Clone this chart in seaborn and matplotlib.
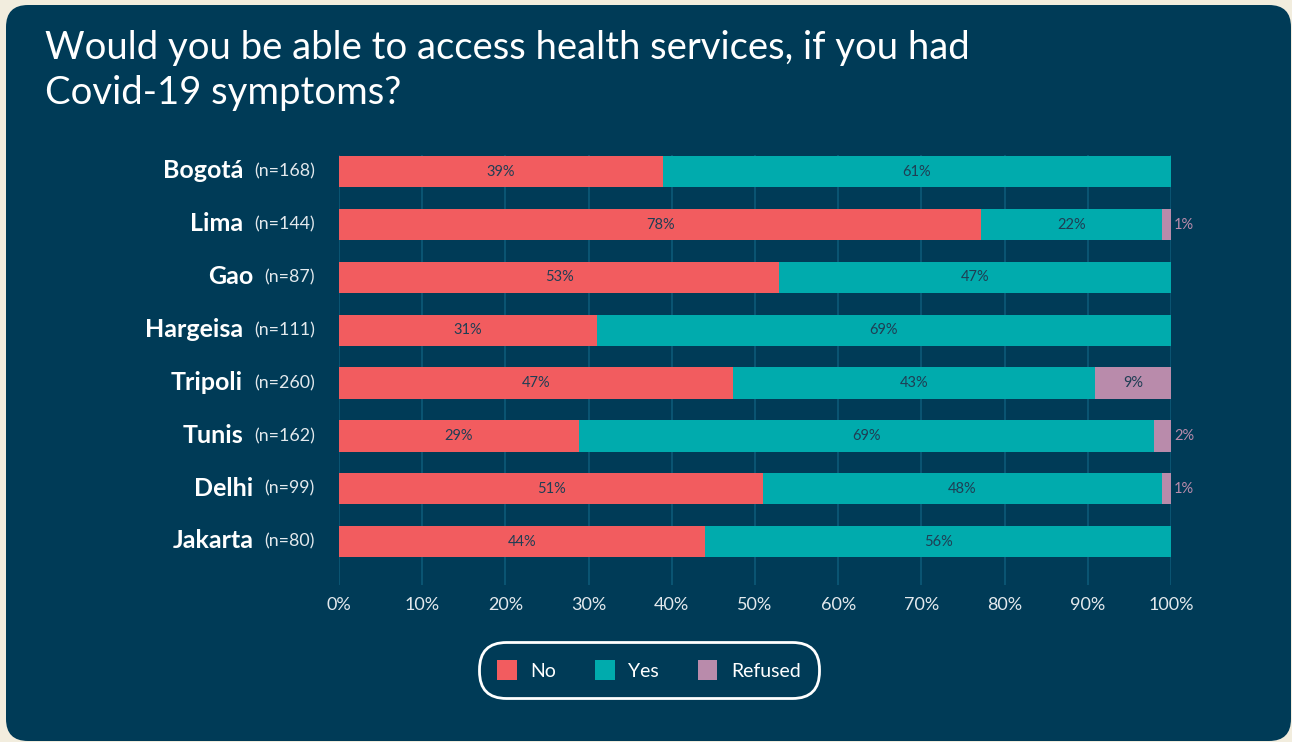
import numpy as np
import pandas as pd
import matplotlib
matplotlib.use("Agg")
import matplotlib.pyplot as plt
import matplotlib.transforms as mtransforms
from matplotlib.patches import FancyBboxPatch, Patch
import seaborn as sns

# ---------------- data ----------------
cities = ["Bogotá", "Lima", "Gao", "Hargeisa", "Tripoli", "Tunis", "Delhi", "Jakarta"]
sample_n = [168, 144, 87, 111, 260, 162, 99, 80]
no_pct = [38.9, 77.2, 52.9, 31.0, 47.4, 28.8, 51.0, 44.0]
yes_pct = [61.1, 21.7, 47.1, 69.0, 43.5, 69.2, 47.9, 56.0]
refused_pct = [0.0, 1.1, 0.0, 0.0, 9.1, 2.0, 1.1, 0.0]
no_labels = [39, 78, 53, 31, 47, 29, 51, 44]
yes_labels = [61, 22, 47, 69, 43, 69, 48, 56]
refused_labels = [None, 1, None, None, 9, 2, 1, None]
series = ["No", "Yes", "Refused"]
x_ticks = [0, 10, 20, 30, 40, 50, 60, 70, 80, 90, 100]
title = "Would you be able to access health services, if you had\nCovid-19 symptoms?"

# ---------------- style ----------------
CREAM = "#F2EDDE"
PANEL = "#003B57"
COLORS = {"No": "#F25C5F", "Yes": "#00ABAD", "Refused": "#B98BAB"}
GRID = "#0C5775"
LABEL_DARK = "#1F3E54"
LIGHT = "#E3E9ED"

sns.set_theme(style="white")
plt.rcParams["font.family"] = ["Lato", "DejaVu Sans"]

W, H, DPI = 1292, 742, 100
fig = plt.figure(figsize=(W / DPI, H / DPI), dpi=DPI)
fig.patch.set_facecolor(CREAM)

panel = FancyBboxPatch((6, 1), 1285, 736, boxstyle="round,pad=0,rounding_size=22",
                       transform=mtransforms.IdentityTransform(),
                       facecolor=PANEL, edgecolor="none", zorder=-10)
fig.add_artist(panel)

fig.text(45 / W, 1 - 30 / H, title, ha="left", va="top", fontsize=27.5,
         color="white", linespacing=1.3)

ax = fig.add_axes([339 / W, (H - 585) / H, 832 / W, 430 / H])
ax.set_facecolor("none")

df = pd.DataFrame({"city": cities, "No": no_pct, "Yes": yes_pct, "Refused": refused_pct})
df["cum_no"] = df["No"]
df["cum_yes"] = df["No"] + df["Yes"]
df["cum_ref"] = df["No"] + df["Yes"] + df["Refused"]

bw = 0.59
for col, s in [("cum_ref", "Refused"), ("cum_yes", "Yes"), ("cum_no", "No")]:
    sns.barplot(data=df, y="city", x=col, orient="h", color=COLORS[s], saturation=1,
                width=bw, linewidth=0, ax=ax, errorbar=None, zorder=3)

ax.set_xlim(0, 100)
ax.set_ylim(7 + 0.82, -bw / 2 - 0.02)
ax.set_xticks(x_ticks)
ax.set_xticklabels([f"{t}%" for t in x_ticks], color=LIGHT, fontsize=13)
ax.tick_params(axis="x", length=0, pad=9)
ax.tick_params(axis="y", length=0)
ax.set_yticklabels([])
ax.set_xlabel("")
ax.set_ylabel("")
ax.xaxis.grid(True, color=GRID, linewidth=1.3, zorder=0)
ax.yaxis.grid(False)
ax.set_axisbelow(True)
for sp in ax.spines.values():
    sp.set_visible(False)

# segment labels
LBL = 10.5
for i in range(len(cities)):
    ax.text(no_pct[i] / 2, i, f"{no_labels[i]}%", ha="center", va="center",
            fontsize=LBL, color=LABEL_DARK, zorder=5)
    ax.text(no_pct[i] + yes_pct[i] / 2, i, f"{yes_labels[i]}%", ha="center", va="center",
            fontsize=LBL, color=LABEL_DARK, zorder=5)
    if refused_labels[i] is not None:
        if refused_pct[i] >= 5:
            ax.text(no_pct[i] + yes_pct[i] + refused_pct[i] / 2, i, f"{refused_labels[i]}%",
                    ha="center", va="center", fontsize=LBL, color=LABEL_DARK, zorder=5)
        else:
            ax.text(100, i, f"{refused_labels[i]}%", ha="left", va="center",
                    fontsize=LBL, color=COLORS["Refused"], zorder=5,
                    transform=mtransforms.offset_copy(ax.transData, fig=fig, x=3, units="dots"))

# y labels: bold city + (n=..)
ytrans = mtransforms.offset_copy(ax.get_yaxis_transform(), fig=fig, x=-24, units="dots")
for i, (c, n) in enumerate(zip(cities, sample_n)):
    nt = ax.text(0, i, f"(n={n})", ha="right", va="center", fontsize=12.8,
                 color=LIGHT, transform=ytrans)
    ax.annotate(c, xy=(0, 0.5), xycoords=nt, xytext=(-8, 0.5), textcoords="offset points",
                ha="right", va="center", fontsize=18, fontweight="bold", color="white")

# legend
handles = [Patch(facecolor=COLORS[s], edgecolor="none", label=s) for s in series]
leg = fig.legend(handles=handles, loc="center", bbox_to_anchor=(649 / W, 1 - 670 / H),
                 ncol=3, frameon=True, fontsize=14, labelcolor="white",
                 handlelength=1.0, handleheight=1.2, handletextpad=0.7,
                 columnspacing=2.0, borderpad=0.9, borderaxespad=0)
fr = leg.get_frame()
fr.set_facecolor(PANEL)
fr.set_edgecolor("white")
fr.set_linewidth(2)
fr.set_alpha(1)
fr.set_boxstyle("round,pad=0.05,rounding_size=1.4")

fig.savefig("out.png", dpi=DPI, facecolor=CREAM)
